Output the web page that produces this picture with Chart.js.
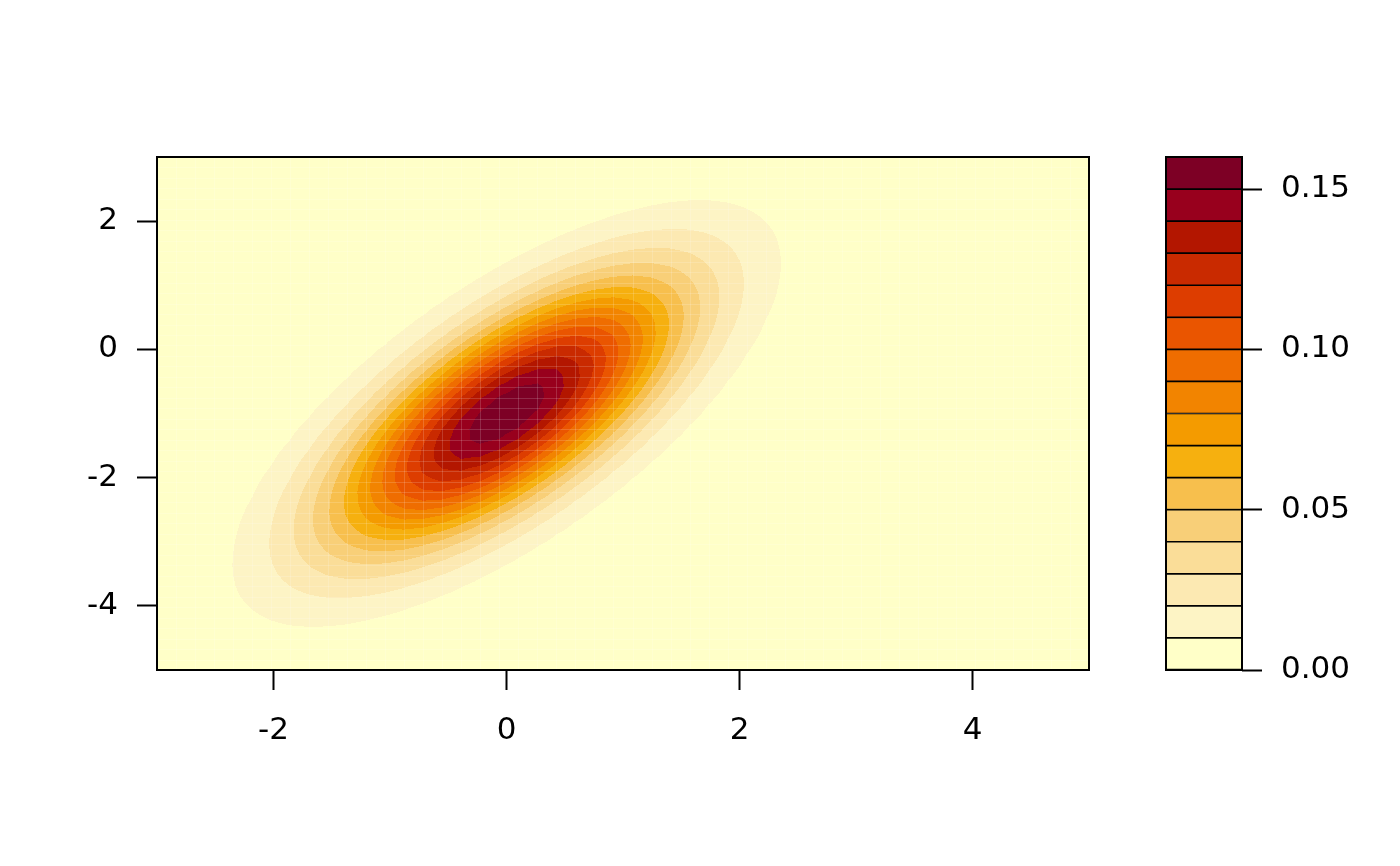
<!DOCTYPE html>
<html>
<head>
<meta charset="utf-8">
<script src="https://cdn.jsdelivr.net/npm/chart.js@4.4.1/dist/chart.umd.min.js"></script>
<style>
  body { margin: 0; background: #fff; }
  #wrap { position: relative; width: 1400px; height: 866px; }
  #wrap canvas { position: absolute; left: 0; top: 0; }
</style>
</head>
<body>
<div id="wrap">
  <canvas id="contourChart" width="1400" height="866"></canvas>
  <canvas id="keyChart" width="1400" height="866"></canvas>
</div>
<script>
// Axis ranges and tick labels
const xRange = [-3, 5];
const yRange = [-5, 3];
const xTicks = [-2, 0, 2, 4];
const yTicks = [-4, -2, 0, 2];

// Contour levels and their fill colours (lowest band first)
const levels = [0, 0.01, 0.02, 0.03, 0.04, 0.05, 0.06, 0.07, 0.08,
                0.09, 0.10, 0.11, 0.12, 0.13, 0.14, 0.15, 0.16];
const bandColours = ['#FFFFC8', '#FDF4C5', '#FCE9B2', '#FADD98', '#F8CF78', '#F7BF4D',
                     '#F6B00F', '#F49B00', '#F28400', '#EF6D00', '#EA5500', '#DD3D00',
                     '#C92A00', '#B31600', '#98001D', '#7D0025'];
const keyTicks = [0, 0.05, 0.10, 0.15];

// Bivariate normal density that the surface shows
const meanXY = [0, -1];
const covariance = [[1, 1], [1, 2]];
const gridPoints = 50;

const FONT = { family: 'DejaVu Sans', size: 31 };

// Density grid
const gridX = [], gridY = [];
for (let i = 0; i < gridPoints; i++) {
    gridX.push(xRange[0] + (xRange[1] - xRange[0]) * i / (gridPoints - 1));
    gridY.push(yRange[0] + (yRange[1] - yRange[0]) * i / (gridPoints - 1));
}
const det = covariance[0][0] * covariance[1][1] - covariance[0][1] * covariance[1][0];
const inv = [[covariance[1][1] / det, -covariance[0][1] / det],
             [-covariance[1][0] / det, covariance[0][0] / det]];
const density = gridX.map(x => gridY.map(y => {
    const dx = x - meanXY[0], dy = y - meanXY[1];
    const q = dx * (inv[0][0] * dx + inv[0][1] * dy) + dy * (inv[1][0] * dx + inv[1][1] * dy);
    return Math.exp(-q / 2) / (2 * Math.PI * Math.sqrt(det));
}));

function hexToRgb(h) {
    return [parseInt(h.slice(1, 3), 16), parseInt(h.slice(3, 5), 16), parseInt(h.slice(5, 7), 16)];
}
const bandRgb = bandColours.map(hexToRgb);

function valueAt(x, y) {
    const fx = (x - gridX[0]) / (gridX[1] - gridX[0]);
    const fy = (y - gridY[0]) / (gridY[1] - gridY[0]);
    const i = Math.min(Math.max(Math.floor(fx), 0), gridPoints - 2);
    const j = Math.min(Math.max(Math.floor(fy), 0), gridPoints - 2);
    const tx = fx - i, ty = fy - j;
    return density[i][j] * (1 - tx) * (1 - ty) + density[i + 1][j] * tx * (1 - ty) +
           density[i][j + 1] * (1 - tx) * ty + density[i + 1][j + 1] * tx * ty;
}

function bandIndex(v) {
    for (let k = levels.length - 2; k >= 0; k--) {
        if (v >= levels[k]) return k;
    }
    return 0;
}

function drawBox(chart) {
    const { ctx, chartArea: a } = chart;
    ctx.save();
    ctx.strokeStyle = '#000';
    ctx.lineWidth = 2;
    ctx.strokeRect(a.left, a.top, a.right - a.left, a.bottom - a.top);
    ctx.restore();
}

// Paints the filled contour bands inside the plot area
const contourPlugin = {
    id: 'contourFill',
    beforeDatasetsDraw(chart) {
        const { ctx, chartArea: a, scales: { x, y } } = chart;
        const w = Math.round(a.right - a.left), h = Math.round(a.bottom - a.top);
        const off = document.createElement('canvas');
        off.width = w; off.height = h;
        const octx = off.getContext('2d');
        const img = octx.createImageData(w, h);
        for (let py = 0; py < h; py++) {
            const yv = y.getValueForPixel(a.top + py + 0.5);
            for (let px = 0; px < w; px++) {
                const xv = x.getValueForPixel(a.left + px + 0.5);
                const c = bandRgb[bandIndex(valueAt(xv, yv))];
                const p = (py * w + px) * 4;
                img.data[p] = c[0]; img.data[p + 1] = c[1]; img.data[p + 2] = c[2]; img.data[p + 3] = 255;
            }
        }
        octx.putImageData(img, 0, 0);
        ctx.save();
        ctx.drawImage(off, a.left, a.top);
        // faint seams between the grid cells
        ctx.strokeStyle = 'rgba(255,255,255,0.16)';
        ctx.lineWidth = 1;
        ctx.beginPath();
        gridX.forEach(v => {
            const p = Math.round(x.getPixelForValue(v)) + 0.5;
            ctx.moveTo(p, a.top); ctx.lineTo(p, a.bottom);
        });
        gridY.forEach(v => {
            const p = Math.round(y.getPixelForValue(v)) + 0.5;
            ctx.moveTo(a.left, p); ctx.lineTo(a.right, p);
        });
        ctx.stroke();
        ctx.restore();
    },
    afterDraw: drawBox
};

const boxPlugin = { id: 'keyBox', afterDraw: drawBox };

function tickAxis(min, max, ticks, extra, pad) {
    return Object.assign({
        type: 'linear',
        min: min,
        max: max,
        afterBuildTicks: s => { s.ticks = ticks.map(v => ({ value: v })); },
        grid: { drawOnChartArea: false, drawTicks: true, tickLength: 20, tickColor: '#000', tickWidth: 2 },
        border: { display: false },
        ticks: { color: '#000', font: FONT, padding: pad, autoSkip: false, maxRotation: 0 }
    }, extra);
}

function createContourChart() {
    new Chart(document.getElementById('contourChart'), {
        type: 'scatter',
        data: { datasets: [{ data: [] }] },
        options: {
            responsive: false,
            animation: false,
            layout: { padding: { top: 157, right: 311, bottom: 0, left: 0 } },
            plugins: { legend: { display: false }, tooltip: { enabled: false } },
            scales: {
                x: tickAxis(xRange[0], xRange[1], xTicks, { afterFit: s => { s.height = 196; } }, 22),
                y: tickAxis(yRange[0], yRange[1], yTicks, { afterFit: s => { s.width = 157; } }, 19)
            }
        },
        plugins: [contourPlugin]
    });
}

function createKeyChart() {
    const yAxis = tickAxis(levels[0], levels[levels.length - 1], keyTicks, {
        position: 'right',
        stacked: true,
        afterFit: s => { s.width = 158; }
    }, 19);
    yAxis.ticks.callback = v => v.toFixed(2);
    new Chart(document.getElementById('keyChart'), {
        type: 'bar',
        data: {
            labels: [''],
            datasets: bandColours.map((c, i) => ({
                data: [levels[i + 1] - levels[i]],
                backgroundColor: c,
                borderColor: '#000',
                borderWidth: 1.2,
                borderSkipped: false,
                barPercentage: 1,
                categoryPercentage: 1
            }))
        },
        options: {
            responsive: false,
            animation: false,
            layout: { padding: { top: 157, right: 0, bottom: 196, left: 1166 } },
            plugins: { legend: { display: false }, tooltip: { enabled: false } },
            scales: {
                x: { display: false, stacked: true },
                y: yAxis
            }
        },
        plugins: [boxPlugin]
    });
}

document.addEventListener('DOMContentLoaded', function () {
    createContourChart();
    createKeyChart();
});
</script>
</body>
</html>
